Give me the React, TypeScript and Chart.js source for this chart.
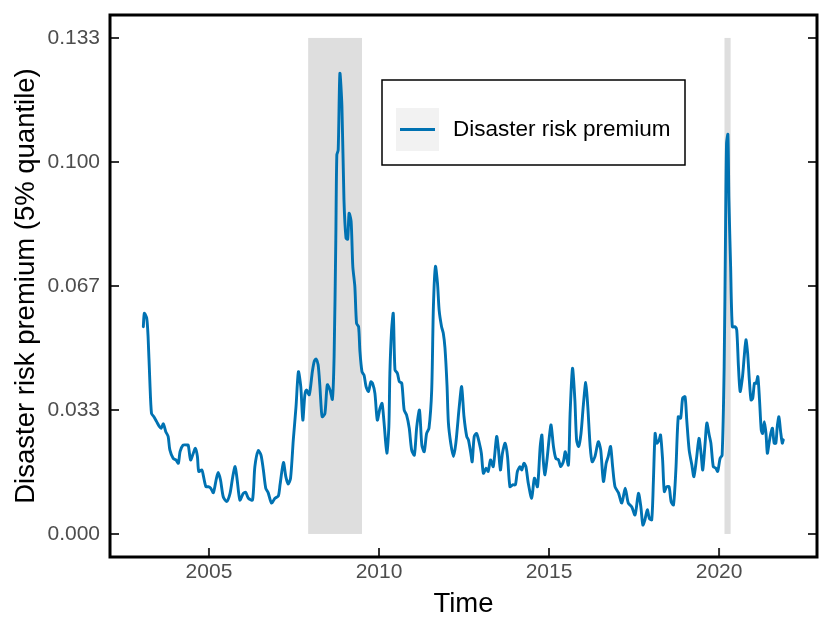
import React, { useEffect, useRef } from "react";
import { Chart, registerables } from "chart.js";

Chart.register(...registerables);

const seriesLabel = "Disaster risk premium";
const xTitle = "Time";
const yTitle = "Disaster risk premium (5% quantile)";
const xTickValues = [2005, 2010, 2015, 2020];
const yTickValues = [0, 0.1 / 3, 0.2 / 3, 0.1, 0.4 / 3];
const recessionStarts = [2007.917, 2020.16];
const recessionEnds = [2009.5, 2020.34];
const recessionTop = 0.4 / 3;

const timeA = [2003.07, 2003.10, 2003.17, 2003.21, 2003.26, 2003.31, 2003.38, 2003.46, 2003.54, 2003.59, 2003.66, 2003.73, 2003.80, 2003.85, 2003.95, 2004.03, 2004.10, 2004.15, 2004.24, 2004.34, 2004.39, 2004.46, 2004.54, 2004.60, 2004.66, 2004.70, 2004.79, 2004.83, 2004.91, 2004.98, 2005.05, 2005.13, 2005.21, 2005.27, 2005.34, 2005.42, 2005.52, 2005.62, 2005.70, 2005.77, 2005.83, 2005.91, 2006.01, 2006.08, 2006.16, 2006.28, 2006.35, 2006.45, 2006.53, 2006.60, 2006.67, 2006.74, 2006.84, 2006.94, 2007.04, 2007.09, 2007.19, 2007.26, 2007.33, 2007.40, 2007.48, 2007.56, 2007.63, 2007.70, 2007.76, 2007.82, 2007.87, 2007.95];
const premiumA = [0.0557, 0.0593, 0.0580, 0.0530, 0.0414, 0.0324, 0.0315, 0.0302, 0.0289, 0.0284, 0.0296, 0.0275, 0.0262, 0.0226, 0.0203, 0.0199, 0.0190, 0.0221, 0.0239, 0.0239, 0.0239, 0.0199, 0.0217, 0.0230, 0.0208, 0.0168, 0.0172, 0.0159, 0.0127, 0.0127, 0.0123, 0.0111, 0.0145, 0.0165, 0.0145, 0.0100, 0.0087, 0.0109, 0.0154, 0.0181, 0.0145, 0.0091, 0.0109, 0.0112, 0.0096, 0.0091, 0.0181, 0.0224, 0.0212, 0.0172, 0.0123, 0.0111, 0.0083, 0.0096, 0.0102, 0.0132, 0.0192, 0.0154, 0.0134, 0.0150, 0.0253, 0.0342, 0.0436, 0.0396, 0.0306, 0.0374, 0.0387, 0.0374];

const timeB = [2008.04, 2008.10, 2008.15, 2008.21, 2008.26, 2008.30, 2008.33, 2008.41, 2008.48, 2008.56, 2008.63, 2008.68, 2008.73, 2008.76, 2008.80, 2008.85, 2008.91, 2008.97, 2009.03, 2009.08, 2009.12, 2009.18, 2009.23, 2009.29, 2009.34, 2009.40, 2009.44, 2009.50, 2009.56, 2009.62, 2009.69, 2009.76, 2009.81, 2009.88, 2009.95];
const premiumB = [0.0436, 0.0465, 0.0470, 0.0455, 0.0400, 0.0340, 0.0315, 0.0324, 0.0401, 0.0387, 0.0362, 0.0477, 0.0790, 0.1019, 0.1032, 0.1238, 0.1149, 0.0898, 0.0795, 0.0792, 0.0862, 0.0840, 0.0719, 0.0665, 0.0566, 0.0557, 0.0490, 0.0436, 0.0427, 0.0396, 0.0383, 0.0409, 0.0405, 0.0378, 0.0306];

const timeC = [2010.03, 2010.09, 2010.15, 2010.23, 2010.29, 2010.32, 2010.37, 2010.42, 2010.47, 2010.54, 2010.60, 2010.67, 2010.74, 2010.81, 2010.89, 2010.96, 2011.04, 2011.11, 2011.19, 2011.26, 2011.33, 2011.40, 2011.47, 2011.55, 2011.60, 2011.66, 2011.72, 2011.77, 2011.84, 2011.89, 2011.94, 2012.00, 2012.04, 2012.11, 2012.19, 2012.26, 2012.36, 2012.43, 2012.50, 2012.58, 2012.63, 2012.70, 2012.74, 2012.80, 2012.87, 2012.95];
const premiumC = [0.0338, 0.0351, 0.0298, 0.0217, 0.0288, 0.0432, 0.0548, 0.0593, 0.0441, 0.0432, 0.0409, 0.0405, 0.0333, 0.0320, 0.0284, 0.0226, 0.0212, 0.0288, 0.0333, 0.0239, 0.0221, 0.0270, 0.0284, 0.0387, 0.0611, 0.0719, 0.0674, 0.0600, 0.0557, 0.0540, 0.0500, 0.0400, 0.0300, 0.0244, 0.0208, 0.0244, 0.0342, 0.0396, 0.0315, 0.0262, 0.0253, 0.0217, 0.0194, 0.0262, 0.0270, 0.0244];

const timeD = [2013.01, 2013.07, 2013.15, 2013.21, 2013.28, 2013.36, 2013.46, 2013.51, 2013.57, 2013.63, 2013.71, 2013.78, 2013.85, 2013.93, 2014.01, 2014.07, 2014.15, 2014.20, 2014.26, 2014.32, 2014.39, 2014.49, 2014.57, 2014.66, 2014.74, 2014.79, 2014.83, 2014.88, 2014.95, 2015.01, 2015.06, 2015.13, 2015.20, 2015.28, 2015.34, 2015.42, 2015.48, 2015.57, 2015.62, 2015.69, 2015.76, 2015.81, 2015.87, 2015.94, 2016.01, 2016.08, 2016.14, 2016.21, 2016.27, 2016.35, 2016.45, 2016.52, 2016.60, 2016.68, 2016.74, 2016.81, 2016.87, 2016.94];
const premiumD = [0.0217, 0.0163, 0.0177, 0.0168, 0.0199, 0.0181, 0.0262, 0.0230, 0.0172, 0.0217, 0.0244, 0.0208, 0.0127, 0.0132, 0.0132, 0.0168, 0.0181, 0.0172, 0.0190, 0.0181, 0.0136, 0.0096, 0.0150, 0.0127, 0.0235, 0.0266, 0.0199, 0.0159, 0.0208, 0.0262, 0.0293, 0.0235, 0.0203, 0.0199, 0.0181, 0.0194, 0.0221, 0.0185, 0.0324, 0.0445, 0.0360, 0.0253, 0.0235, 0.0270, 0.0347, 0.0407, 0.0342, 0.0235, 0.0194, 0.0208, 0.0248, 0.0226, 0.0141, 0.0190, 0.0208, 0.0235, 0.0181, 0.0127];

const timeE = [2017.04, 2017.14, 2017.24, 2017.33, 2017.43, 2017.53, 2017.63, 2017.70, 2017.76, 2017.82, 2017.89, 2017.95, 2018.02, 2018.07, 2018.12, 2018.17, 2018.24, 2018.28, 2018.34, 2018.39, 2018.46, 2018.53, 2018.59, 2018.66, 2018.73, 2018.80, 2018.87, 2018.93, 2019.00, 2019.05, 2019.12, 2019.20, 2019.26, 2019.34, 2019.41, 2019.47, 2019.52, 2019.59, 2019.64, 2019.71, 2019.76, 2019.83, 2019.90, 2019.96];
const premiumE = [0.0111, 0.0083, 0.0123, 0.0083, 0.0073, 0.0051, 0.0109, 0.0073, 0.0024, 0.0038, 0.0065, 0.0042, 0.0038, 0.0145, 0.0270, 0.0244, 0.0253, 0.0266, 0.0199, 0.0114, 0.0127, 0.0127, 0.0087, 0.0078, 0.0172, 0.0315, 0.0311, 0.0365, 0.0369, 0.0306, 0.0226, 0.0185, 0.0154, 0.0205, 0.0257, 0.0217, 0.0172, 0.0244, 0.0298, 0.0266, 0.0244, 0.0181, 0.0177, 0.0168];

const timeF = [2020.03, 2020.09, 2020.15, 2020.19, 2020.22, 2020.26, 2020.29, 2020.34, 2020.39, 2020.47, 2020.52, 2020.57, 2020.62, 2020.69, 2020.74, 2020.79, 2020.84, 2020.89, 2020.94, 2020.99, 2021.04, 2021.09, 2021.14, 2021.19, 2021.24, 2021.28, 2021.33, 2021.38, 2021.42, 2021.47, 2021.52, 2021.57, 2021.62, 2021.67, 2021.71, 2021.76, 2021.81, 2021.86, 2021.89];
const premiumF = [0.0203, 0.0212, 0.0450, 0.0808, 0.1050, 0.1074, 0.0898, 0.0719, 0.0557, 0.0557, 0.0548, 0.0450, 0.0383, 0.0423, 0.0477, 0.0522, 0.0486, 0.0414, 0.0360, 0.0365, 0.0405, 0.0405, 0.0423, 0.0360, 0.0280, 0.0270, 0.0302, 0.0270, 0.0217, 0.0244, 0.0270, 0.0284, 0.0244, 0.0244, 0.0288, 0.0315, 0.0275, 0.0244, 0.0253];

const allTimes = [...timeA, ...timeB, ...timeC, ...timeD, ...timeE, ...timeF];
const allPremium = [...premiumA, ...premiumB, ...premiumC, ...premiumD, ...premiumE, ...premiumF];

const FONT = '"Liberation Sans", Arial, Helvetica, sans-serif';
const LINE_COLOR = "#0072B2";

const decorPlugin = {
  id: "decor",
  beforeDatasetsDraw(chart: any) {
    const { ctx, scales } = chart;
    const x = scales.x;
    const y = scales.y;
    ctx.save();
    ctx.fillStyle = "#dedede";
    recessionStarts.forEach((s, i) => {
      const x0 = x.getPixelForValue(s);
      const x1 = x.getPixelForValue(recessionEnds[i]);
      const yt = y.getPixelForValue(recessionTop);
      const yb = y.getPixelForValue(0);
      ctx.fillRect(x0, yt, x1 - x0, yb - yt);
    });
    ctx.restore();
  },
  afterDraw(chart: any) {
    const { ctx, chartArea, scales } = chart;
    const x = scales.x;
    const y = scales.y;
    const { left, right, top, bottom } = chartArea;
    ctx.save();
    // inward ticks
    ctx.strokeStyle = "#333333";
    ctx.lineWidth = 2;
    const tl = 9;
    xTickValues.forEach((v) => {
      const px = x.getPixelForValue(v);
      ctx.beginPath();
      ctx.moveTo(px, bottom);
      ctx.lineTo(px, bottom - tl);
      ctx.stroke();
    });
    yTickValues.forEach((v) => {
      const py = y.getPixelForValue(v);
      ctx.beginPath();
      ctx.moveTo(left, py);
      ctx.lineTo(left + tl, py);
      ctx.moveTo(right, py);
      ctx.lineTo(right - tl, py);
      ctx.stroke();
    });
    // panel border
    ctx.strokeStyle = "#000000";
    ctx.lineWidth = 3;
    ctx.strokeRect(left, top, right - left, bottom - top);

    // legend
    const lx = left + 272;
    const ly = top + 65;
    const lw = 303;
    const lh = 85;
    ctx.fillStyle = "#ffffff";
    ctx.fillRect(lx, ly, lw, lh);
    ctx.lineWidth = 1.5;
    ctx.strokeStyle = "#000000";
    ctx.strokeRect(lx, ly, lw, lh);
    ctx.fillStyle = "#f2f2f2";
    ctx.fillRect(lx + 14, ly + 28, 43, 43);
    ctx.strokeStyle = LINE_COLOR;
    ctx.lineWidth = 2.8;
    ctx.beginPath();
    ctx.moveTo(lx + 18, ly + 49.5);
    ctx.lineTo(lx + 53, ly + 49.5);
    ctx.stroke();
    ctx.fillStyle = "#000000";
    ctx.font = `22.5px ${FONT}`;
    ctx.textBaseline = "middle";
    ctx.textAlign = "left";
    ctx.fillText(seriesLabel, lx + 71, ly + 50);
    ctx.restore();
  },
};

export default function App() {
  const canvasRef = useRef<HTMLCanvasElement | null>(null);

  useEffect(() => {
    if (!canvasRef.current) return;
    const points = allTimes.map((t, i) => ({ x: t, y: allPremium[i] }));
    const chart = new Chart(canvasRef.current, {
      type: "line",
      data: {
        datasets: [
          {
            label: seriesLabel,
            data: points,
            borderColor: LINE_COLOR,
            backgroundColor: LINE_COLOR,
            borderWidth: 2.9,
            pointRadius: 0,
            tension: 0.25,
            borderJoinStyle: "round",
            borderCapStyle: "round",
            fill: false,
          },
        ],
      },
      options: {
        responsive: false,
        animation: false,
        devicePixelRatio: 1,
        layout: { padding: { top: 15, right: 13, left: 0, bottom: 0 } },
        plugins: {
          legend: { display: false },
          tooltip: { enabled: false },
        },
        scales: {
          x: {
            type: "linear",
            min: 2002.09,
            max: 2022.88,
            afterBuildTicks: (s: any) => {
              s.ticks = xTickValues.map((v) => ({ value: v }));
            },
            afterFit: (s: any) => {
              s.height = 75;
              s.paddingLeft = 0;
              s.paddingRight = 0;
            },
            ticks: {
              callback: (v: any) => String(v),
              font: { family: FONT, size: 21 },
              color: "#4d4d4d",
              padding: 3,
              maxRotation: 0,
              autoSkip: false,
            },
            grid: { display: false, drawTicks: false },
            border: { display: false },
            title: {
              display: true,
              text: xTitle,
              color: "#000000",
              font: { family: FONT, size: 27.5 },
              padding: { top: 0, bottom: 11 },
            },
          },
          y: {
            type: "linear",
            min: -0.0062,
            max: 0.1395,
            afterBuildTicks: (s: any) => {
              s.ticks = yTickValues.map((v) => ({ value: v }));
            },
            afterFit: (s: any) => {
              s.width = 110;
              s.paddingTop = 0;
              s.paddingBottom = 0;
            },
            ticks: {
              callback: (v: any) => Number(v).toFixed(3),
              font: { family: FONT, size: 21 },
              color: "#4d4d4d",
              padding: 10,
              autoSkip: false,
            },
            grid: { display: false, drawTicks: false },
            border: { display: false },
            title: {
              display: true,
              text: yTitle,
              color: "#000000",
              font: { family: FONT, size: 27.5 },
              padding: { top: 10, bottom: 0 },
            },
          },
        },
      },
      plugins: [decorPlugin],
    });
    return () => chart.destroy();
  }, []);

  return (
    <div style={{ position: "absolute", left: 0, top: 0, width: 830, height: 632, background: "#ffffff" }}>
      <canvas ref={canvasRef} width={830} height={632} style={{ display: "block" }} />
    </div>
  );
}
